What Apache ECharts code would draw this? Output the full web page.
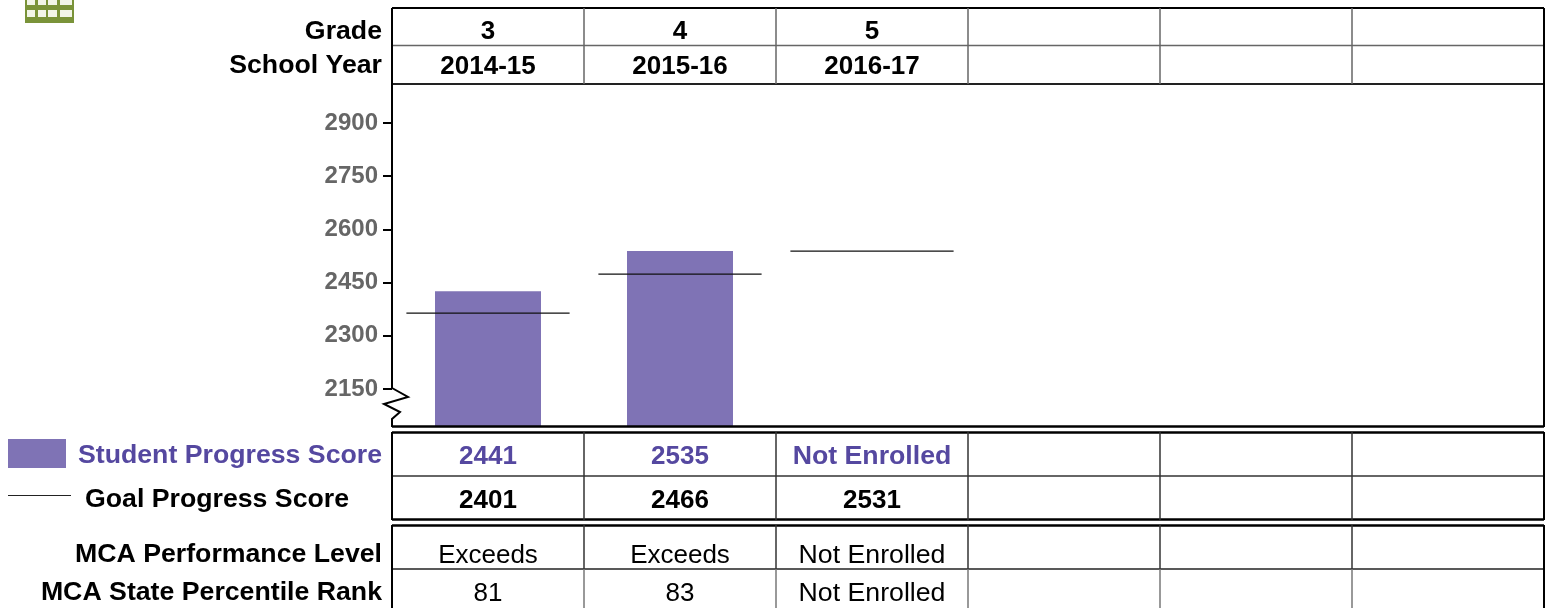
<!DOCTYPE html>
<html><head><meta charset="utf-8">
<style>html,body{margin:0;padding:0;background:#fff}#c{width:1546px;height:608px}</style>
<script src="https://cdn.jsdelivr.net/npm/echarts@6/dist/echarts.min.js"></script>
</head><body><div id="c"></div>
<script>
const grades = ['3','4','5','','',''];
const schoolYears = ['2014-15','2015-16','2016-17','','',''];
const barValues = [2426,2539,null,null,null,null];
const goalValues = [2364,2474,2539,null,null,null];
const studentScoreText = ['2441','2535','Not Enrolled','','',''];
const goalScoreText = ['2401','2466','2531','','',''];
const performanceText = ['Exceeds','Exceeds','Not Enrolled','','',''];
const percentileText = ['81','83','Not Enrolled','','',''];
const yTicks = [2150,2300,2450,2600,2750,2900];

const FONT='"Liberation Sans", Arial, sans-serif', FS=26.7, FSN=26;
const L=392,R=1544,CW=192,TOP=84,BOT=427;
const g=[];
function h(y,w,c,x1,x2){g.push({type:'line',z:5,shape:{x1:x1===undefined?L:x1,y1:y,x2:x2===undefined?R:x2,y2:y},style:{stroke:c||'#000',lineWidth:w||1}});}
function v(x,y1,y2,w,c){g.push({type:'line',z:5,shape:{x1:x,y1:y1,x2:x,y2:y2},style:{stroke:c||'#000',lineWidth:w||1}});}
function t(s,x,y,align,color,weight,size){g.push({type:'text',z:6,style:{text:s,x:x,y:y,align:align,verticalAlign:'middle',fill:color||'#000',font:(weight||'bold')+' '+(size||FS)+'px '+FONT}});}
function row(arr,y,color,weight){arr.forEach((s,i)=>{if(s)t(s,L+CW*i+CW/2,y,'center',color,weight,/[A-Za-z]/.test(s)&&s!=='Exceeds'?FS:FSN);});}

// header table
h(8,2);h(45.5,1.5,'#666');h(84,2,'#222');
v(392,8,84,2);v(1544,8,84,2);
for(let i=1;i<6;i++)v(L+CW*i,8,84,1.5,'#666');
// plot frame
h(426.5,2.5);v(1544,84,427,2);
v(392,84,388,2);
g.push({type:'polyline',z:5,shape:{points:[[392,388],[408,397],[384,404],[400,412],[392,419],[392,427]]},style:{stroke:'#000',lineWidth:2,fill:null}});
// score table
h(432.5,2.5);h(476,1.5,'#333');h(519.5,2.5);
v(392,432,520,2);v(1544,432,520,2);
for(let i=1;i<6;i++)v(L+CW*i,432,520,1.5,'#333');
// MCA table
h(525.5,2.5);h(569,1.5,'#222');
v(392,525,608,2);v(1544,525,608,2);
for(let i=1;i<6;i++){v(L+CW*i,525,569,1.5,'#333');v(L+CW*i,569,608,1.5,'#777');}

t('Grade',382,32,'right');t('School Year',382,66,'right');
t('Student Progress Score',382,456,'right','#5548a0');
t('Goal Progress Score',349,500,'right');
t('MCA Performance Level',382,555,'right');
t('MCA State Percentile Rank',382,593,'right');
row(grades,32);row(schoolYears,67);
row(studentScoreText,457,'#5548a0');row(goalScoreText,501);
row(performanceText,556,'#000','normal');row(percentileText,594,'#000','normal');

// legend marks
g.push({type:'rect',z:5,shape:{x:8,y:439,width:58,height:29},style:{fill:'#7f73b5'}});
h(495.5,1,'#222',8,71);

// icon
g.push({type:'rect',z:5,shape:{x:25,y:-10,width:49,height:33},style:{fill:'#7a9339'}});
[-2,10].forEach(y=>[[27,8],[38,8],[48,9],[60,12]].forEach(c=>{
  g.push({type:'rect',z:6,shape:{x:c[0],y:y,width:c[1],height:7},style:{fill:'#f2f5e8'}});
}));

const chart=echarts.init(document.getElementById('c'),null,{renderer:'canvas'});
chart.setOption({
  animation:false,backgroundColor:'#fff',
  grid:{left:L,top:TOP,width:R-L,height:BOT-TOP,containLabel:false},
  xAxis:{type:'category',data:grades.map((g,i)=>g||' '.repeat(i)),show:false},
  yAxis:{type:'value',min:2043,max:3010,splitLine:{show:false},
    axisLine:{show:false},
    axisTick:{show:true,length:9,customValues:yTicks,lineStyle:{color:'#000',width:2}},
    axisLabel:{show:true,customValues:yTicks,margin:14,color:'#666',fontWeight:'bold',fontSize:24,fontFamily:FONT,
      padding:[2,0,0,0],formatter:v=>String(v)}},
  series:[
    {type:'bar',name:'Student Progress Score',data:barValues,barWidth:106,itemStyle:{color:'#7f73b5'},z:2},
    {type:'custom',name:'Goal Progress Score',z:3,data:goalValues.map((v,i)=>[i,v]).filter(d=>d[1]!==null),
      encode:{x:0,y:1},
      renderItem:(p,api)=>{
        const c=api.coord([api.value(0),api.value(1)]);const hw=api.size([1,0])[0]*0.425;
        return {type:'line',shape:{x1:c[0]-hw,y1:c[1],x2:c[0]+hw,y2:c[1]},style:{stroke:'#111',lineWidth:1.3}};
      }}
  ],
  graphic:{elements:g}
});
</script></body></html>
